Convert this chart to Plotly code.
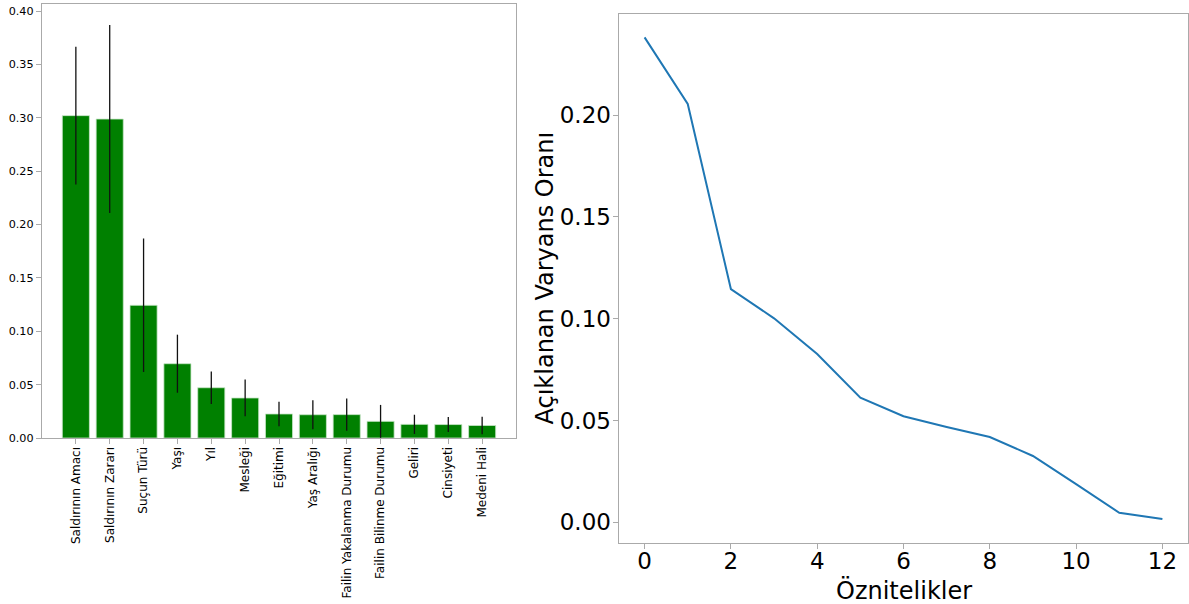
import plotly.graph_objects as go

# ---- data ----
features = ["Saldırının Amacı", "Saldırının Zararı", "Suçun Türü", "Yaşı", "Yıl",
            "Mesleği", "Eğitimi", "Yaş Aralığı", "Failin Yakalanma Durumu",
            "Failin Bilinme Durumu", "Geliri", "Cinsiyeti", "Medeni Hali"]
importances = [0.302, 0.2988, 0.1243, 0.0696, 0.0471, 0.0375, 0.0225,
               0.0218, 0.0219, 0.0156, 0.0128, 0.0126, 0.0117]
importance_std = [0.0645, 0.088, 0.0625, 0.0272, 0.0152, 0.0172, 0.0114,
                  0.0135, 0.0152, 0.0154, 0.009, 0.007, 0.0083]

components = list(range(13))
explained_ratio = [0.2382, 0.2055, 0.1146, 0.1002, 0.0827, 0.0612, 0.0521,
                   0.0468, 0.0419, 0.0326, 0.0188, 0.0047, 0.0016]

left_yticks = [0.00, 0.05, 0.10, 0.15, 0.20, 0.25, 0.30, 0.35, 0.40]
right_xticks = [0, 2, 4, 6, 8, 10, 12]
right_yticks = [0.00, 0.05, 0.10, 0.15, 0.20]

W, H = 1189, 604
FONT = "DejaVu Sans"
SPINE = "#aaaaaa"

fig = go.Figure()

fig.add_trace(go.Bar(
    x=features, y=importances, width=0.8,
    marker=dict(color="#008000", line=dict(color="#c8e6c8", width=0.8)),
    error_y=dict(type="data", array=importance_std, symmetric=True,
                 color="#111111", thickness=1.3, width=0),
    xaxis="x", yaxis="y", showlegend=False,
))

fig.add_trace(go.Scatter(
    x=components, y=explained_ratio, mode="lines",
    line=dict(color="#1f77b4", width=2),
    xaxis="x2", yaxis="y2", showlegend=False,
))

def px_x(v):
    return v / W

def px_y(v):
    return 1 - v / H

axis_common = dict(showgrid=False, zeroline=False, showline=True, mirror=True,
                   linecolor=SPINE, linewidth=1.3, ticks="outside", ticklen=5,
                   tickcolor=SPINE, tickwidth=1.2, automargin=False)

fig.update_layout(
    width=W, height=H,
    margin=dict(l=0, r=0, t=0, b=0),
    paper_bgcolor="white", plot_bgcolor="white",
    font=dict(family=FONT, color="black"),
    xaxis=dict(domain=[px_x(42), px_x(516)], range=[-1, 13], type="category",
               tickangle=-90, ticklabelstandoff=-2,
               tickfont=dict(size=12, family=FONT), **axis_common),
    yaxis=dict(domain=[px_y(438), px_y(4.3)], range=[0, 0.4063],
               tickvals=left_yticks, tickformat=".2f", ticklabelstandoff=0,
               tickfont=dict(size=11.2, family=FONT), **axis_common),
    xaxis2=dict(domain=[px_x(618.7), px_x(1188.3)], range=[-0.6, 12.6],
                tickvals=right_xticks, anchor="y2", ticklabelstandoff=-8,
                tickfont=dict(size=23, family=FONT), **axis_common),
    yaxis2=dict(domain=[px_y(543.3), px_y(14)], range=[-0.0103, 0.2497],
                tickvals=right_yticks, tickformat=".2f", anchor="x2",
                ticklabelstandoff=-3,
                tickfont=dict(size=23, family=FONT), **axis_common),
    annotations=[
        dict(text="Açıklanan Varyans Oranı", xref="paper", yref="paper",
             x=px_x(544), y=px_y(278.5), xanchor="center", yanchor="middle",
             textangle=-90, showarrow=False, font=dict(size=24, family=FONT)),
        dict(text="Öznitelikler", xref="paper", yref="paper",
             x=px_x(903.5), y=px_y(590), xanchor="center", yanchor="middle",
             showarrow=False, font=dict(size=24, family=FONT)),
    ],
)

fig.write_html("out.html", config={"displayModeBar": False},
               post_script="document.body.style.margin='0';document.body.style.overflow='hidden';")
